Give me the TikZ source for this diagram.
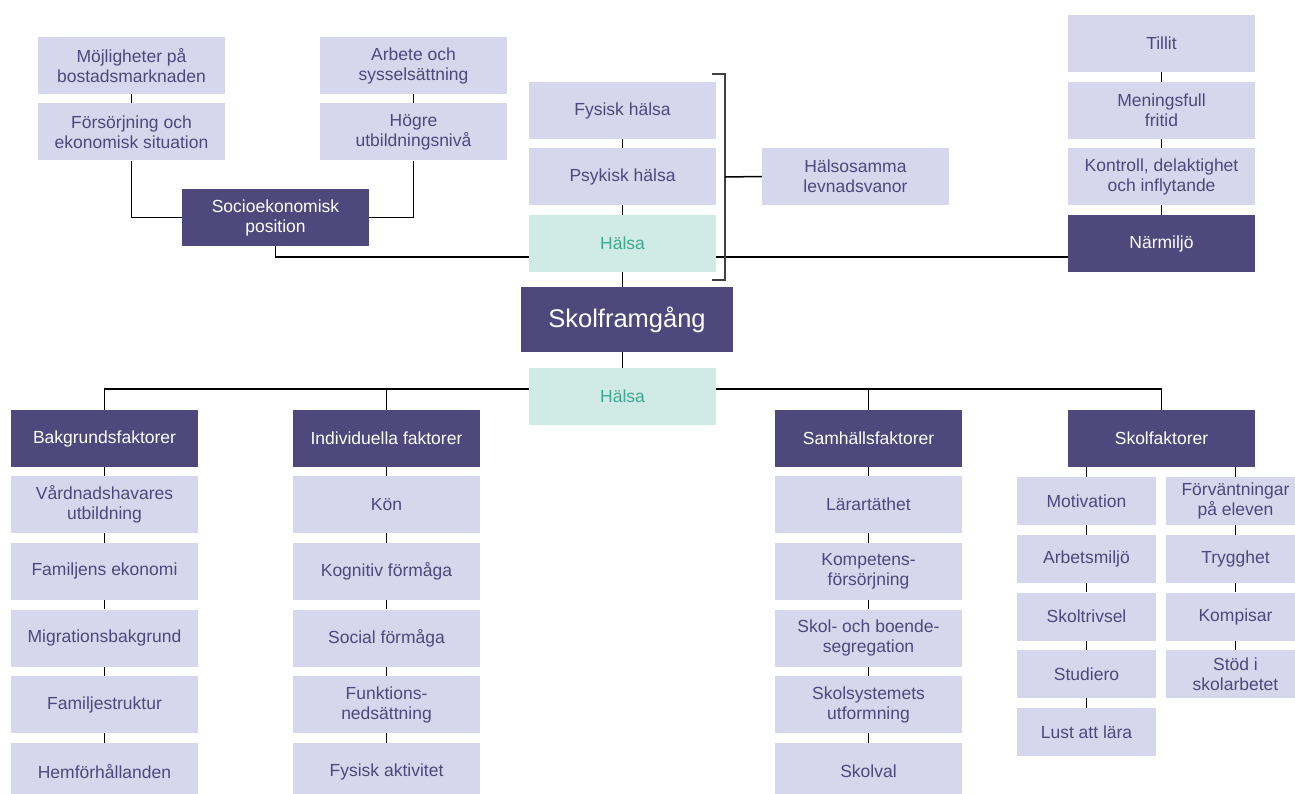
\documentclass[tikz,border=0pt]{standalone}
\usepackage{fontspec}
\setmainfont{Liberation Sans}
\usetikzlibrary{backgrounds}
\definecolor{deep}{HTML}{4E487D}
\definecolor{pale}{HTML}{D6D6EC}
\definecolor{mint}{HTML}{D0EBE5}
\definecolor{minttext}{HTML}{3EA892}
\tikzset{
  box/.style={rectangle, inner sep=0pt, align=center, minimum width=187pt,
    minimum height=57pt, font=\fontsize{17.5}{20}\selectfont},
  light/.style={box, fill=pale, text=deep},
  dark/.style={box, fill=deep, text=white},
  mintbox/.style={box, fill=mint, text=minttext},
  small/.style={light, minimum width=139pt, minimum height=48pt},
  link/.style={draw=black, line width=1.5pt},
}
\begin{document}
\begin{tikzpicture}[x=1pt,y=-1pt]
\clip (0,0) rectangle (1295,794);

% socioeconomic branch
\node[light] (moj)   at (131.5,65.5) {Möjligheter på\\bostadsmarknaden};
\node[light] (fors)  at (131.5,132)  {Försörjning och\\ekonomisk situation};
\node[light] (arb)   at (413.5,65.5) {Arbete och\\sysselsättning};
\node[light] (hog)   at (413.5,132)  {Högre\\utbildningsnivå};
\node[dark]  (socio) at (275.5,217.5) {Socioekonomisk\\position};

% health column
\node[light]   (fys)    at (622.5,110.5) {Fysisk hälsa};
\node[light]   (psy)    at (622.5,176.5) {Psykisk hälsa};
\node[mintbox] (halsaA) at (622.5,243.5) {Hälsa};
\node[light]   (vanor)  at (855.5,176.5) {Hälsosamma\\levnadsvanor};
\coordinate (brT) at (712,74);
\coordinate (brB) at (712,280);
\coordinate (brM) at (725,177);

% centre
\node[dark, minimum width=212pt, minimum height=65pt,
      font=\fontsize{25.5}{30}\selectfont] (skol) at (627,319.5) {Skolframgång};
\node[mintbox] (halsaB) at (622.5,396.5) {Hälsa};
\coordinate (bus) at (622.5,389);

% neighbourhood branch
\node[light] (tillit)   at (1161.5,43.5)  {Tillit};
\node[light] (fritid)   at (1161.5,110.5) {Meningsfull\\fritid};
\node[light] (kontroll) at (1161.5,176.5) {Kontroll, delaktighet\\och inflytande};
\node[dark]  (narm)     at (1161.5,243.5) {Närmiljö};

% factor groups
\node[dark] (bak) at (104.5,438.5)  {Bakgrundsfaktorer};
\node[dark] (ind) at (386.5,438.5)  {Individuella faktorer};
\node[dark] (sam) at (868.5,438.5)  {Samhällsfaktorer};
\node[dark] (skf) at (1161.5,438.5) {Skolfaktorer};

\foreach \t [count=\i] in {{Vårdnadshavares\\utbildning}, {Familjens ekonomi},
    {Migrationsbakgrund}, {Familjestruktur}, {Hemförhållanden}}
  \node[light] (b\i) at (104.5,{504.5+66.75*(\i-1)}) {\t};
\foreach \t [count=\i] in {{Kön}, {Kognitiv förmåga}, {Social förmåga},
    {Funktions-\\nedsättning}, {Fysisk aktivitet}}
  \node[light] (n\i) at (386.5,{504.5+66.75*(\i-1)}) {\t};
\foreach \t [count=\i] in {{Lärartäthet}, {Kompetens-\\försörjning},
    {Skol- och boende-\\segregation}, {Skolsystemets\\utformning}, {Skolval}}
  \node[light] (s\i) at (868.5,{504.5+66.75*(\i-1)}) {\t};
\foreach \t [count=\i] in {{Motivation}, {Arbetsmiljö}, {Skoltrivsel},
    {Studiero}, {Lust att lära}}
  \node[small] (m\i) at (1086.5,{501+57.75*(\i-1)}) {\t};
\foreach \t [count=\i] in {{Förväntningar\\på eleven}, {Trygghet}, {Kompisar},
    {Stöd i\\skolarbetet}}
  \node[small] (r\i) at (1235.5,{501+57.75*(\i-1)}) {\t};

\begin{scope}[on background layer]
  % upper connectors
  \draw[link] (moj) -- (fors);
  \draw[link] (arb) -- (hog);
  \draw[link] (fors.south) |- (socio.west);
  \draw[link] (hog.south) |- (socio.east);
  \draw[link] (socio.south) |- ([yshift=-13.5pt]narm.west);
  \draw[link] (fys) -- (psy);
  \draw[link] (psy) -- (halsaA);
  \draw[link] (halsaA.south) -- (halsaA.south |- skol.north);
  \draw[link, draw=black!75] (brT) -- ++(13,0) |- (brB);
  \draw[link] (brM) -- (vanor.west);
  \draw[link] (tillit) -- (fritid);
  \draw[link] (fritid) -- (kontroll);
  \draw[link] (kontroll) -- (narm);
  % lower connectors
  \draw[link] (skol.south -| halsaB.north) -- (halsaB.north);
  \draw[link] (bak.north) |- (bus) -| (skf.north);
  \draw[link] (ind.north) -- (ind.north |- bus);
  \draw[link] (sam.north) -- (sam.north |- bus);
  \draw[link] (bak) -- (b1);
  \draw[link] (ind) -- (n1);
  \draw[link] (sam) -- (s1);
  \foreach \i [evaluate=\i as \j using int(\i+1)] in {1,...,4} {
    \draw[link] (b\i) -- (b\j);
    \draw[link] (n\i) -- (n\j);
    \draw[link] (s\i) -- (s\j);
    \draw[link] (m\i) -- (m\j);
  }
  \foreach \i [evaluate=\i as \j using int(\i+1)] in {1,...,3}
    \draw[link] (r\i) -- (r\j);
  \draw[link] (m1.north) -- (m1.north |- skf.south);
  \draw[link] (r1.north) -- (r1.north |- skf.south);
\end{scope}
\end{tikzpicture}
\end{document}
